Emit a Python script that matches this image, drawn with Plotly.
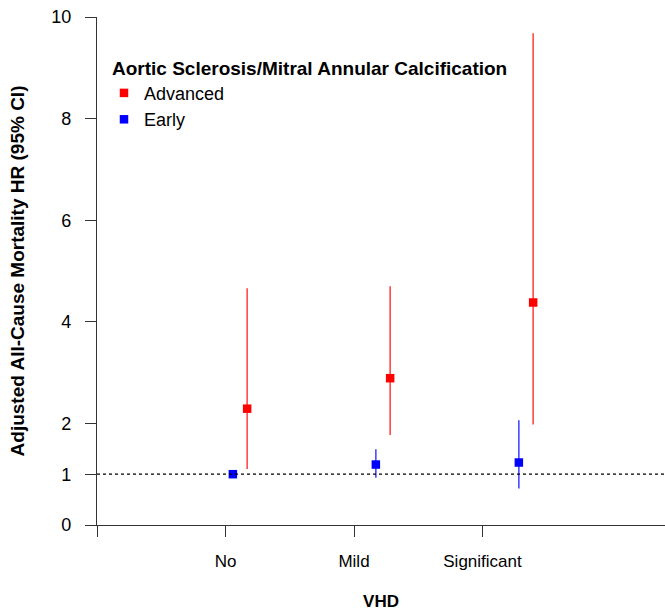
import plotly.graph_objects as go

# ---- data ----
categories = ["No", "Mild", "Significant"]
cat_pos = [1, 2, 3]

early_hr = [1.00, 1.19, 1.23]
early_lo = [1.00, 0.93, 0.72]
early_hi = [1.00, 1.49, 2.06]

adv_hr = [2.29, 2.89, 4.38]
adv_lo = [1.10, 1.77, 1.98]
adv_hi = [4.66, 4.70, 9.68]

y_ticks = [0, 1, 2, 4, 6, 8, 10]
dodge = 0.05

FONT = "Liberation Sans, Arial, sans-serif"

fig = go.Figure()

# empty trace so the category tick axis is drawn
fig.add_trace(go.Scatter(x=[None], y=[None], xaxis="x", yaxis="y", mode="markers",
                         showlegend=False, hoverinfo="skip"))


def add_series(name, hr, lo, hi, color, line_color, shift):
    fig.add_trace(go.Scatter(
        x=[p + shift for p in cat_pos], y=hr,
        xaxis="x2", yaxis="y",
        mode="markers", name=name,
        marker=dict(symbol="square", size=8.5, color=color),
        error_y=dict(type="data", symmetric=False,
                     array=[h - v for h, v in zip(hi, hr)],
                     arrayminus=[v - l for v, l in zip(hr, lo)],
                     color=line_color, thickness=1.6, width=0),
    ))


add_series("Advanced", adv_hr, adv_lo, adv_hi, "#FF0000", "rgba(255,40,40,0.85)", dodge)
add_series("Early", early_hr, early_lo, early_hi, "#0000FF", "rgba(40,40,255,0.85)", -dodge)

fig.add_shape(type="line", xref="paper", yref="y", x0=0, x1=1, y0=1, y1=1,
              line=dict(color="black", width=1.2, dash="dot"))

W, H = 665, 613
L, R, T, B = 97, 0, 17, 88
plot_w = W - L - R
plot_h = H - T - B

fig.update_layout(
    width=W, height=H,
    margin=dict(l=L, r=R, t=T, b=B, autoexpand=False),
    paper_bgcolor="white", plot_bgcolor="white",
    font=dict(family=FONT, color="black", size=17),
    showlegend=True,
    legend=dict(
        x=(110 - L) / plot_w, y=1 - (50 - T) / plot_h, xanchor="left", yanchor="top",
        title=dict(text="<b>Aortic Sclerosis/Mitral Annular Calcification</b>",
                   font=dict(size=19, family=FONT)),
        font=dict(size=18, family=FONT),
        bgcolor="rgba(0,0,0,0)", itemwidth=30, tracegroupgap=0,
        indentation=-6,
    ),
    xaxis=dict(
        range=[0, plot_w / 128.5],
        tickmode="array", tickvals=[0] + cat_pos, ticktext=[""] + categories,
        ticks="outside", ticklen=11, tickwidth=1.2, tickcolor="#333",
        showline=True, linecolor="#333", linewidth=1.2,
        showgrid=False, zeroline=False, automargin=False,
        tickfont=dict(size=17), ticklabelstandoff=9,
        title=dict(text="<b>VHD</b>", font=dict(size=17), standoff=25),
    ),
    xaxis2=dict(
        range=[0, plot_w / 143.0], overlaying="x", visible=False,
        showgrid=False, zeroline=False,
    ),
    yaxis=dict(
        range=[0, 10],
        tickmode="array", tickvals=y_ticks, ticktext=[str(v) for v in y_ticks],
        ticks="outside", ticklen=11, tickwidth=1.2, tickcolor="#333",
        showline=True, linecolor="#333", linewidth=1.2,
        showgrid=False, zeroline=False, automargin=False,
        tickfont=dict(size=18), ticklabelstandoff=10,
        title=dict(text="<b>Adjusted All-Cause Mortality HR (95% CI)</b>",
                   font=dict(size=19), standoff=21),
    ),
)

fig.write_html("out.html", config={"displayModeBar": False},
               post_script="document.body.style.margin='0';")
